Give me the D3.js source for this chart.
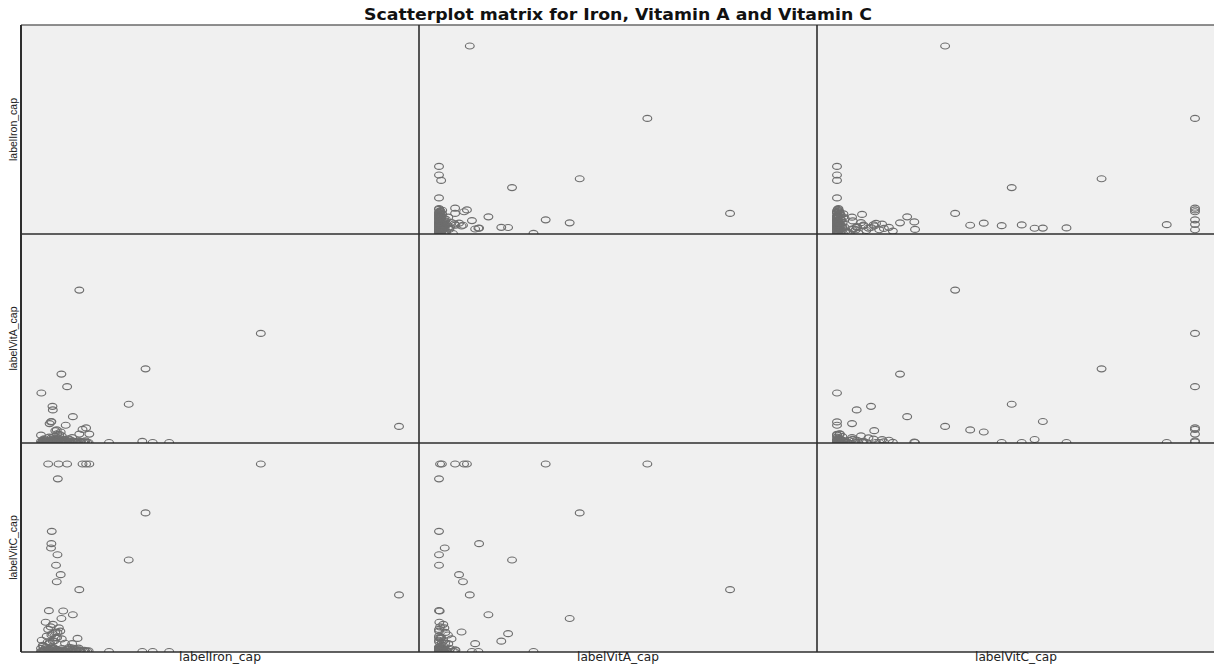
<!DOCTYPE html>
<html>
<head>
<meta charset="utf-8">
<script src="https://cdn.jsdelivr.net/npm/d3@7"></script>
<style>
  html, body { margin: 0; padding: 0; background: #ffffff; }
  svg { display: block; }
</style>
</head>
<body>
<div id="chart"></div>
<script>
// ---- data ----
const chartTitle = "Scatterplot matrix for Iron, Vitamin A and Vitamin C";
const variableLabels = ["labelIron_cap", "labelVitA_cap", "labelVitC_cap"];
const variableDomain = [0, 100];

const iron = [100,10.7,61.4,29.2,5.7,7.3,0.1,24.5,3.2,3.3,
  8.9,19.0,28.3,31.2,35.8,13.5,11.6,12.6,2.0,4.9,
  4.7,3.0,2.9,2.8,4.6,4.2,5.5,4.4,2.2,6.2,
  2.8,2.4,6.9,4.0,0,5.8,1.3,3.3,2.0,5.4,
  4.6,1.6,4.5,3.7,6.7,8.7,10.7,10.2,2.5,0.6,
  4.5,0.3,0.8,1.1,1.7,2.1,2.6,3.1,3.4,3.9,
  4.4,4.8,5.3,5.9,6.4,7.1,7.6,8.3,8.8,9.4,
  10.5,11.3,12.1,12.9,0.5,1.4,2.3,0.0,1.9,3.6,
  5.1,0.9,2.7,4.1,7.9,9.9,1.2,3.3,6.8,0.2,5.0,2.9,
  0.4,1.0,1.5,2.4,3.0,3.5,4.2,4.9,5.6,6.1,
  6.6,7.3,8.0,8.6,9.1,9.7,10.9,11.8,12.4,13.3,
  0.7,1.8,2.9,3.8,4.7,5.8,7.0,8.1,9.6,11.0];

const vitA = [8.6,81.3,58.2,39.3,36.5,29.8,26.4,20.4,19.3,17.4,
  13.8,0,0.6,0,0,4.5,7.0,7.8,0.3,0.8,
  0,0,11.2,1.6,0,0,5.6,6.7,0,0.2,
  11.0,10.1,9.2,6.3,3.9,3.5,0.1,1.2,0,0,
  1.8,0,0.6,1.2,1.7,2.6,4.5,0.4,0.8,0.3,
  4.6,0.0,0.4,0.0,0.9,0.2,0.0,1.4,0.1,0.6,
  0.0,2.3,0.3,1.0,0.0,0.5,1.9,0.0,0.7,0.2,
  0.9,0.0,0.4,0.0,1.1,0.0,2.9,0.6,0.0,3.1,
  4.3,2.0,0.3,0.0,0.0,0.0,0.3,0.0,0.2,0.0,1.5,2.5,
  0.2,0.0,0.5,0.1,0.3,0.0,0.8,0.1,0.0,0.4,
  1.2,0.0,0.3,0.0,0.6,0.1,0.0,0.2,0.9,0.0,
  1.6,0.7,0.0,0.2,1.0,0.0,0.3,1.4,0.0,0.5];

const vitC = [30.2,33.0,100,73.9,17.6,100,0,48.8,9.5,5.5,
  19.6,0,0,0,0,100,100,100,100,100,
  92.1,64.1,57.5,55.2,51.6,46.0,41.0,37.2,21.8,21.6,
  0,4.2,0,10.4,0,6.7,15.6,14.5,11.8,10.9,
  10.2,8.2,7.4,5.6,4.4,4.2,0.7,7.0,4.7,2.8,
  0.8,0.0,0.2,1.3,0.0,0.7,0.0,0.4,2.1,0.0,
  1.1,0.2,0.0,1.6,0.3,0.0,0.9,0.1,1.8,0.0,
  1.8,0.0,0.6,0.2,3.3,2.4,0.0,1.7,5.2,1.5,
  0.0,0.5,13.1,7.3,2.2,1.0,0.0,0.0,0.0,6.0,12.6,8.8,
  0.0,0.4,0.1,1.0,0.0,0.3,0.0,0.6,0.2,0.0,
  0.1,1.2,0.0,0.5,0.0,0.2,0.8,0.0,0.1,0.4,
  0.0,0.2,1.5,0.0,0.3,0.7,0.0,0.1,0.4,0.0];

const variables = [iron, vitA, vitC];

(function () {
  // ---- layout ----
  const W = 1214, H = 668;
  const leftX = 21, topY = 25, cellW = 398, cellH = 209;
  const n = variables.length;

  const svg = d3.select("#chart").append("svg")
    .attr("width", W).attr("height", H);

  svg.append("text")
    .attr("x", leftX + n * cellW / 2)
    .attr("y", 20)
    .attr("text-anchor", "middle")
    .attr("font-family", "DejaVu Sans, sans-serif")
    .attr("font-weight", "bold")
    .attr("font-size", 15.5)
    .attr("textLength", 508)
    .attr("lengthAdjust", "spacingAndGlyphs")
    .attr("fill", "#111")
    .text(chartTitle);

  const defs = svg.append("defs");

  for (let r = 0; r < n; r++) {
    for (let c = 0; c < n; c++) {
      const x0 = leftX + c * cellW, y0 = topY + r * cellH;
      const g = svg.append("g").attr("transform", `translate(${x0},${y0})`);
      const clipId = `clip-${r}-${c}`;
      defs.append("clipPath").attr("id", clipId)
        .append("rect").attr("width", cellW).attr("height", cellH);
      g.append("rect")
        .attr("width", cellW).attr("height", cellH)
        .attr("fill", "#f0f0f0");
      if (r === c) continue;
      const xs = d3.scaleLinear().domain(variableDomain).range([20, cellW - 20]);
      const ys = d3.scaleLinear().domain(variableDomain).range([cellH - 0.5, 21]);
      const xv = variables[c], yv = variables[r];
      g.append("g").attr("clip-path", `url(#${clipId})`)
        .selectAll("ellipse")
        .data(d3.range(xv.length))
        .join("ellipse")
        .attr("cx", i => xs(xv[i]))
        .attr("cy", i => ys(yv[i]))
        .attr("rx", 4.4)
        .attr("ry", 3.0)
        .attr("fill", "none")
        .attr("stroke", "#6e6e6e")
        .attr("stroke-width", 1.15);
    }
  }

  // grid lines
  const gridColor = "#2e2e2e";
  for (let r = 0; r <= n; r++) {
    svg.append("line")
      .attr("x1", leftX).attr("x2", leftX + n * cellW)
      .attr("y1", topY + r * cellH).attr("y2", topY + r * cellH)
      .attr("stroke", r === 0 ? "#6a6a6a" : gridColor)
      .attr("stroke-width", 1.6);
  }
  for (let c = 0; c <= n; c++) {
    svg.append("line")
      .attr("x1", leftX + c * cellW).attr("x2", leftX + c * cellW)
      .attr("y1", topY).attr("y2", topY + n * cellH)
      .attr("stroke", gridColor)
      .attr("stroke-width", c === 0 ? 2 : 1.6);
  }

  // y labels
  variableLabels.forEach((lab, r) => {
    const cy = topY + r * cellH + cellH / 2;
    svg.append("text")
      .attr("transform", `translate(16.5,${cy}) rotate(-90)`)
      .attr("text-anchor", "middle")
      .attr("font-family", "Liberation Sans Narrow, Arial Narrow, sans-serif")
      .attr("font-size", 10.5)
      .attr("fill", "#222")
      .text(lab);
  });

  // x labels
  variableLabels.forEach((lab, c) => {
    const cx = leftX + c * cellW + cellW / 2;
    svg.append("text")
      .attr("x", cx).attr("y", 661)
      .attr("text-anchor", "middle")
      .attr("font-family", "DejaVu Sans, sans-serif")
      .attr("font-size", 11.5)
      .attr("textLength", 82)
      .attr("lengthAdjust", "spacingAndGlyphs")
      .attr("fill", "#222")
      .text(lab);
  });
})();
</script>
</body>
</html>
